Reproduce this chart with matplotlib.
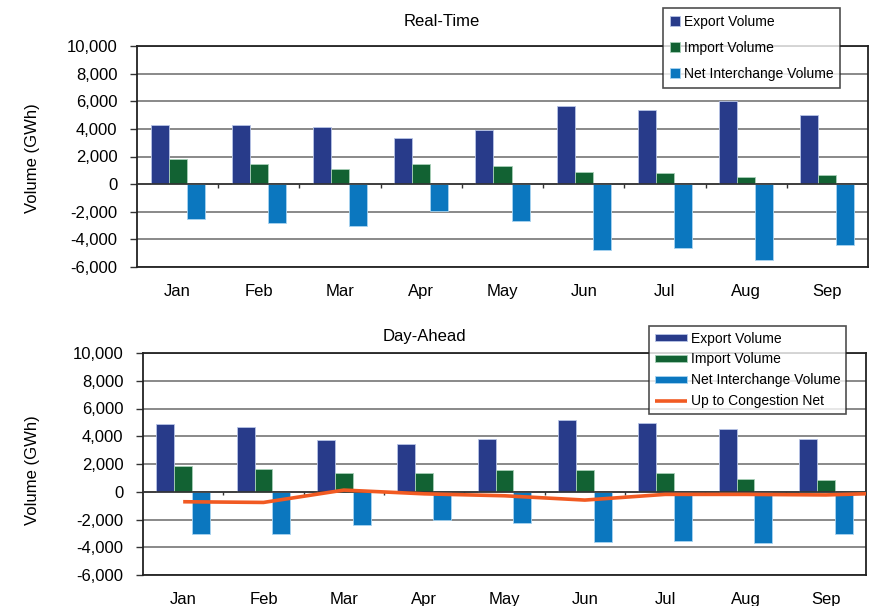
import matplotlib
matplotlib.use('Agg')
import matplotlib.pyplot as plt
import numpy as np

plt.rcParams['font.family'] = ['Liberation Sans', 'DejaVu Sans']

months = ['Jan', 'Feb', 'Mar', 'Apr', 'May', 'Jun', 'Jul', 'Aug', 'Sep']

rt_export = [4300, 4250, 4150, 3370, 3950, 5640, 5350, 6050, 5040]
rt_import = [1800, 1450, 1110, 1470, 1300, 890, 770, 530, 650]
rt_net = [-2500, -2820, -3060, -1930, -2650, -4750, -4600, -5520, -4430]

da_export = [4860, 4640, 3730, 3420, 3780, 5150, 4930, 4520, 3830]
da_import = [1880, 1640, 1350, 1350, 1540, 1560, 1370, 890, 840]
da_net = [-3010, -3010, -2410, -2070, -2240, -3590, -3560, -3660, -3010]
# up to congestion net, last value (Oct) only shows at the right edge
utc_net = [-720, -770, 120, -150, -290, -600, -190, -190, -230, -60]

c_exp = '#283B8A'
c_imp = '#126233'
c_net = '#0B77BF'
c_utc = '#F15A22'

fig = plt.figure(figsize=(8.71, 6.06), dpi=100)
ax1 = fig.add_axes([137/871, 1-267/606, (868-137)/871, (267-46)/606])
ax2 = fig.add_axes([143/871, 1-575/606, (866-143)/871, (575-353)/606])

x = np.arange(len(months))
w = 0.222
fs = 12

def draw(ax, exp, imp, net):
    ax.bar(x - w, exp, w, color=c_exp, edgecolor='#b8c4e6', linewidth=0.6, label='Export Volume', zorder=3)
    ax.bar(x, imp, w, color=c_imp, edgecolor='#a8d0b8', linewidth=0.6, label='Import Volume', zorder=3)
    ax.bar(x + w, net, w, color=c_net, edgecolor='#a8d4f0', linewidth=0.6, label='Net Interchange Volume', zorder=3)
    ax.set_xlim(-0.5, len(months) - 0.5)
    ax.set_ylim(-6000, 10000)
    ax.set_yticks(range(-6000, 10001, 2000))
    ax.set_yticklabels(['{:,}'.format(v) for v in range(-6000, 10001, 2000)])
    ax.yaxis.grid(True, color='#808080', linewidth=1.3, zorder=0)
    ax.set_axisbelow(True)
    ax.axhline(0, color='#333333', linewidth=1.2, zorder=4)
    ax.vlines(np.arange(0.5, len(months) - 0.5), 0, -250, color='#333333', linewidth=1, zorder=4)
    ax.set_xticks(x)
    ax.set_xticklabels(months)
    ax.tick_params(axis='x', length=0, pad=12, labelsize=fs)
    ax.tick_params(axis='y', length=5, width=1, pad=9, labelsize=fs, color='#333333')
    for s in ax.spines.values():
        s.set_color('#222222')
        s.set_linewidth(1.3)

draw(ax1, rt_export, rt_import, rt_net)
draw(ax2, da_export, da_import, da_net)
ax2.plot(np.arange(len(utc_net)), utc_net, color=c_utc, linewidth=2.6, zorder=5,
         label='Up to Congestion Net', solid_capstyle='butt')
ax2.set_xlim(-0.5, len(months) - 0.5)

fig.text(442/871, 1-21/606, 'Real-Time', ha='center', va='center', fontsize=fs)
fig.text(424/871, 1-336/606, 'Day-Ahead', ha='center', va='center', fontsize=fs)
fig.text(33/871, 1-158/606, 'Volume (GWh)', rotation=90, ha='center', va='center', fontsize=fs)
fig.text(33/871, 1-470/606, 'Volume (GWh)', rotation=90, ha='center', va='center', fontsize=fs)

leg1 = ax1.legend(loc='upper left', bbox_to_anchor=(663/871, 1-8/606), bbox_transform=fig.transFigure,
                  fontsize=10, frameon=True, fancybox=False, edgecolor='#222222',
                  handlelength=0.7, handleheight=0.7, handletextpad=0.3, labelspacing=0.85,
                  borderpad=0.5, borderaxespad=0)
leg1.get_frame().set_linewidth(1.2)
leg1.set_zorder(10)

h, l = ax2.get_legend_handles_labels()
order = [1, 2, 3, 0]
leg2 = ax2.legend([h[i] for i in order], [l[i] for i in order],
                  loc='upper left', bbox_to_anchor=(649/871, 1-326/606), bbox_transform=fig.transFigure,
                  fontsize=10, frameon=True, fancybox=False, edgecolor='#222222',
                  handlelength=2.3, handleheight=0.45, handletextpad=0.3, labelspacing=0.5,
                  borderpad=0.4, borderaxespad=0)
leg2.get_frame().set_linewidth(1.2)
leg2.set_zorder(10)

fig.savefig('out.png', dpi=100, facecolor='white')
